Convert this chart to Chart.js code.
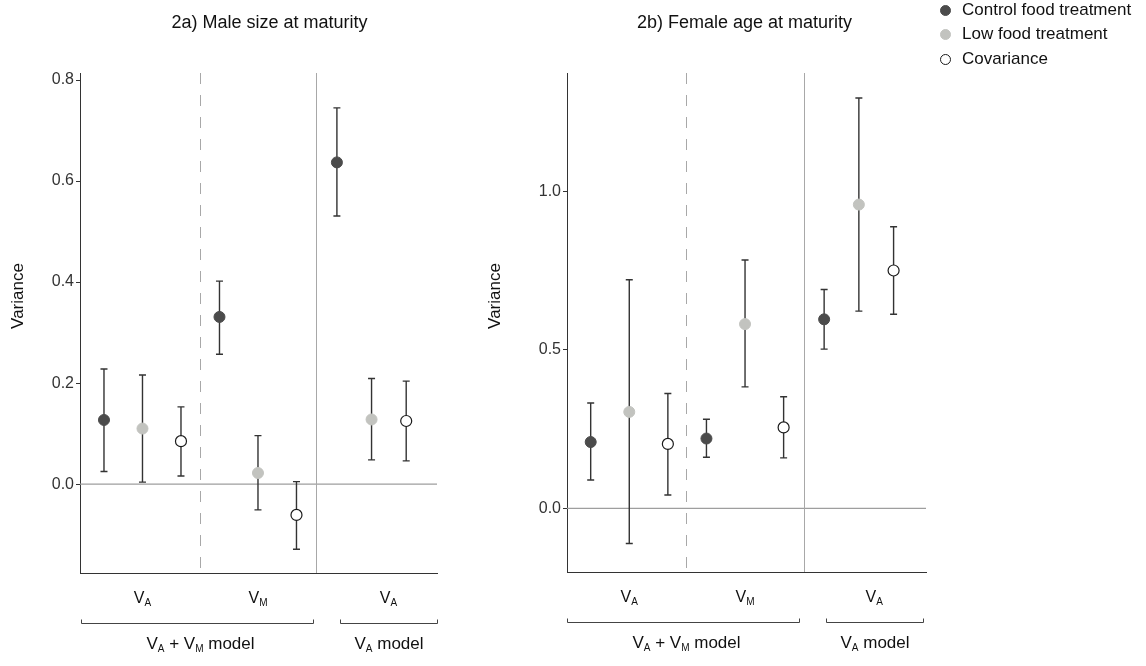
<!DOCTYPE html>
<html>
<head>
<meta charset="utf-8">
<script src="https://cdn.jsdelivr.net/npm/chart.js@4.4.1/dist/chart.umd.min.js"></script>
<style>
  html,body{margin:0;padding:0;background:#fff;}
  body{width:1146px;height:666px;overflow:hidden;position:relative;font-family:"Liberation Sans",Arial,sans-serif;}
  canvas{position:absolute;top:0;}
  #cA{left:0;}
  #cB{left:480px;}
  #legend{position:absolute;left:936px;top:0;width:210px;height:80px;font-size:17px;color:#111;}
  .li{position:absolute;left:0;height:20px;line-height:20px;white-space:nowrap;}
  .dot{position:absolute;left:4px;top:4.5px;width:11px;height:11px;border-radius:50%;box-sizing:border-box;}
  .li .t{position:absolute;left:26px;top:0;}
</style>
</head>
<body>
<canvas id="cA" width="470" height="666"></canvas>
<canvas id="cB" width="480" height="666"></canvas>
<div id="legend"></div>
<script>
// ---------------- DATA ----------------
const seriesNames = ['Control food treatment', 'Low food treatment', 'Covariance'];
const seriesOfSlot = [0, 1, 2, 0, 1, 2, 0, 1, 2];

// 2a) Male size at maturity
const maleEst  = [0.127, 0.110, 0.085, 0.331, 0.022, -0.061, 0.637, 0.128, 0.125];
const maleLow  = [0.025, 0.004, 0.016, 0.257, -0.051, -0.129, 0.531, 0.048, 0.046];
const maleHigh = [0.228, 0.216, 0.153, 0.402, 0.096, 0.005, 0.745, 0.209, 0.204];
const maleTicks = [0.0, 0.2, 0.4, 0.6, 0.8];

// 2b) Female age at maturity
const femaleEst  = [0.209, 0.304, 0.203, 0.220, 0.581, 0.255, 0.596, 0.958, 0.750];
const femaleLow  = [0.089, -0.111, 0.042, 0.161, 0.383, 0.159, 0.502, 0.622, 0.612];
const femaleHigh = [0.332, 0.721, 0.362, 0.281, 0.783, 0.352, 0.690, 1.294, 0.888];
const femaleTicks = [0.0, 0.5, 1.0];

const panelTitles = ['2a) Male size at maturity', '2b) Female age at maturity'];
const yTitle = 'Variance';
// group labels: [main, subscript]
const groupLabels = [['V', 'A'], ['V', 'M'], ['V', 'A']];
// model labels: segments [text, isSubscript]
const modelLabels = [
  [['V', 0], ['A', 1], [' + ', 0], ['V', 0], ['M', 1], [' model', 0]],
  [['V', 0], ['A', 1], [' model', 0]]
];

// ---------------- LAYOUT / STYLE ----------------
const FONT = '"Liberation Sans", Arial, sans-serif';
const slotX = [1, 2, 3, 4, 5, 6, 7.05, 7.95, 8.85];
const colors = {
  fill: ['#4b4b4b', '#c2c3bf', '#ffffff'],
  border: ['#4b4b4b', '#c2c3bf', '#1a1a1a']
};

// legend
(function () {
  const lg = document.getElementById('legend');
  const tops = [0, 24, 49];
  seriesNames.forEach((n, i) => {
    const d = document.createElement('div');
    d.className = 'li';
    d.style.top = tops[i] + 'px';
    const dot = document.createElement('div');
    dot.className = 'dot';
    dot.style.background = colors.fill[i];
    dot.style.border = (i === 2 ? '1.2px solid ' : '1px solid ') + colors.border[i];
    const t = document.createElement('span');
    t.className = 't';
    t.textContent = n;
    d.appendChild(dot); d.appendChild(t);
    lg.appendChild(d);
  });
})();

function drawParts(ctx, parts, cx, baseline, mainSize, subSize) {
  let total = 0;
  const ws = parts.map(p => {
    ctx.font = (p[1] ? subSize : mainSize) + 'px ' + FONT;
    const w = ctx.measureText(p[0]).width;
    total += w;
    return w;
  });
  let x = cx - total / 2;
  ctx.textAlign = 'left';
  ctx.textBaseline = 'alphabetic';
  parts.forEach((p, i) => {
    ctx.font = (p[1] ? subSize : mainSize) + 'px ' + FONT;
    ctx.fillText(p[0], x, baseline + (p[1] ? 3 : 0));
    x += ws[i];
  });
}

function makePanel(canvasId, est, lo, hi, ticks, cfg) {
  const datasets = seriesNames.map((name, s) => {
    const pts = [];
    est.forEach((v, i) => {
      if (seriesOfSlot[i] === s) pts.push({ x: slotX[i], y: v, lo: lo[i], hi: hi[i] });
    });
    return {
      label: name,
      data: pts,
      backgroundColor: colors.fill[s],
      borderColor: colors.border[s],
      borderWidth: s === 2 ? 1.2 : 1,
      pointRadius: 5.5,
      pointHoverRadius: 5.5,
      showLine: false
    };
  });

  const decor = {
    id: 'decor' + canvasId,
    beforeDatasetsDraw(chart) {
      const { ctx, chartArea: a, scales: { x, y } } = chart;
      ctx.save();
      // zero line
      ctx.strokeStyle = '#9e9e9e';
      ctx.lineWidth = 1.2;
      ctx.beginPath();
      ctx.moveTo(a.left, y.getPixelForValue(0));
      ctx.lineTo(a.right, y.getPixelForValue(0));
      ctx.stroke();
      // dashed divider
      ctx.strokeStyle = '#a8a8a8';
      ctx.lineWidth = 1;
      ctx.setLineDash([11, 11]);
      const xd = Math.round(x.getPixelForValue(cfg.dashed)) + 0.5;
      ctx.beginPath(); ctx.moveTo(xd, a.top); ctx.lineTo(xd, a.bottom); ctx.stroke();
      ctx.setLineDash([]);
      const xs = Math.round(x.getPixelForValue(cfg.solid)) + 0.5;
      ctx.beginPath(); ctx.moveTo(xs, a.top); ctx.lineTo(xs, a.bottom); ctx.stroke();
      // error bars
      ctx.strokeStyle = '#333';
      ctx.lineWidth = 1.4;
      chart.data.datasets.forEach(ds => {
        ds.data.forEach(p => {
          const px = x.getPixelForValue(p.x);
          const y1 = y.getPixelForValue(p.lo), y2 = y.getPixelForValue(p.hi);
          ctx.beginPath();
          ctx.moveTo(px, y1); ctx.lineTo(px, y2);
          ctx.moveTo(px - 3.5, y1); ctx.lineTo(px + 3.5, y1);
          ctx.moveTo(px - 3.5, y2); ctx.lineTo(px + 3.5, y2);
          ctx.stroke();
        });
      });
      ctx.restore();
    },
    afterDraw(chart) {
      const { ctx, chartArea: a, scales: { x, y } } = chart;
      ctx.save();
      ctx.fillStyle = '#111';
      // title
      ctx.font = '18px ' + FONT;
      ctx.textAlign = 'center';
      ctx.textBaseline = 'alphabetic';
      ctx.fillText(cfg.title, (a.left + a.right) / 2 + cfg.titleDx, 28);
      // y title
      ctx.save();
      ctx.translate(cfg.yTitleX, cfg.yTitleY);
      ctx.rotate(-Math.PI / 2);
      ctx.font = '17px ' + FONT;
      ctx.textAlign = 'center';
      ctx.textBaseline = 'middle';
      ctx.fillText(yTitle, 0, 0);
      ctx.restore();
      // group labels
      const b = cfg.brackets;
      const centers = [2, 5, (b[1][0] + b[1][1]) / 2];
      groupLabels.forEach((g, i) => {
        drawParts(ctx, [[g[0], 0], [g[1], 1]], x.getPixelForValue(centers[i]), a.bottom + 30, 16, 10);
      });
      // brackets
      ctx.strokeStyle = '#444';
      ctx.lineWidth = 1;
      const by = a.bottom + 50.5;
      b.forEach((br, i) => {
        const x1 = Math.round(x.getPixelForValue(br[0])) + 0.5;
        const x2 = Math.round(x.getPixelForValue(br[1])) + 0.5;
        ctx.beginPath();
        ctx.moveTo(x1, by - 4); ctx.lineTo(x1, by); ctx.lineTo(x2, by); ctx.lineTo(x2, by - 4);
        ctx.stroke();
        drawParts(ctx, modelLabels[i], (x1 + x2) / 2 + (i === 0 ? 3 : 0), a.bottom + 76, 17, 10);
      });
      ctx.restore();
    }
  };

  return new Chart(document.getElementById(canvasId), {
    type: 'scatter',
    data: { datasets },
    options: {
      responsive: false,
      devicePixelRatio: 1,
      animation: false,
      events: [],
      layout: { padding: cfg.padding },
      plugins: { legend: { display: false }, tooltip: { enabled: false } },
      scales: {
        x: {
          type: 'linear',
          min: cfg.xMin, max: cfg.xMax,
          ticks: { display: false },
          grid: { display: true, drawOnChartArea: false, drawTicks: false },
          border: { display: true, color: '#333', width: 1 },
          afterFit(s) { s.height = 0; }
        },
        y: {
          type: 'linear',
          min: cfg.yMin, max: cfg.yMax,
          afterBuildTicks(s) { s.ticks = ticks.map(v => ({ value: v })); },
          ticks: {
            color: '#333',
            padding: 2,
            font: { size: 16, family: FONT },
            callback: v => Number(v).toFixed(1)
          },
          grid: { display: true, drawOnChartArea: false, drawTicks: true, tickLength: 4, color: '#333' },
          border: { display: true, color: '#333', width: 1 },
          afterFit(s) { s.width = 50; }
        }
      }
    },
    plugins: [decor]
  });
}

makePanel('cA', maleEst, maleLow, maleHigh, maleTicks, {
  title: panelTitles[0], titleDx: 11,
  padding: { left: 30, right: 33, top: 73, bottom: 93 },
  xMin: 0.377, xMax: 9.65, yMin: -0.176, yMax: 0.814,
  dashed: 3.49, solid: 6.52,
  brackets: [[0.40, 6.42], [7.13, 9.65]],
  yTitleX: 18, yTitleY: 296
});

makePanel('cB', femaleEst, femaleLow, femaleHigh, femaleTicks, {
  title: panelTitles[1], titleDx: -2,
  padding: { left: 37, right: 34, top: 73, bottom: 94 },
  xMin: 0.386, xMax: 9.69, yMin: -0.201, yMax: 1.373,
  dashed: 3.46, solid: 6.53,
  brackets: [[0.38, 6.40], [7.10, 9.60]],
  yTitleX: 15, yTitleY: 296
});
</script>
</body>
</html>
